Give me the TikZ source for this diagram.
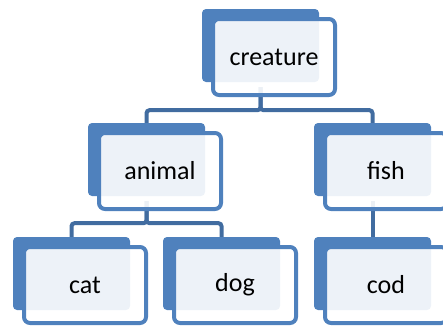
\documentclass[tikz,border=0pt]{standalone}
\usepackage{fontspec}
\setmainfont{Carlito}
\usetikzlibrary{backgrounds}
\definecolor{boxblue}{RGB}{79,129,189}
\definecolor{linkblue}{RGB}{65,108,160}
\tikzset{
  backbox/.style={fill=boxblue, draw=none, rounded corners=4pt,
    minimum width=117pt, minimum height=73pt, inner sep=0pt},
  frontbox/.style={draw=boxblue, line width=4pt, fill=white, fill opacity=0.9,
    text opacity=1, rounded corners=6pt, minimum width=122pt,
    minimum height=76pt, inner sep=0pt, font=\fontsize{26}{30}\selectfont},
  link/.style={draw=linkblue, line width=4pt, rounded corners=3pt}
}
% one entry of the tree: filled back panel plus framed label panel
\newcommand\treeitem[4]{%
  \node[backbox] (#1-back) at (#2+58.5,#3+36.5) {};
  \node[frontbox] (#1) at (#2+72,#3+48) {#4};
}
\begin{document}
\begin{tikzpicture}[x=1pt,y=-1pt]
  \useasboundingbox (0,0) rectangle (443,327);
  \clip (0,0) rectangle (443,327);
  \treeitem{creature}{202}{9}{creature}
  \treeitem{animal}{88}{123}{animal}
  \treeitem{fish}{314}{123}{fish}
  \treeitem{cat}{13}{237}{cat}
  \treeitem{dog}{163}{237}{dog}
  \treeitem{cod}{314}{237}{cod}
  \begin{scope}[on background layer]
    \draw[link] ([yshift=-5pt]creature-back.south) -- ++(0,23) -| (animal-back.north);
    \draw[link] ([yshift=-5pt]creature-back.south) -- ++(0,23) -| (fish-back.north);
    \draw[link] ([yshift=-5pt]animal-back.south) -- ++(0,22) -| (cat-back.north);
    \draw[link] ([yshift=-5pt]animal-back.south) -- ++(0,22) -| (dog-back.north);
    \draw[link] ([yshift=-5pt]fish-back.south) -- (cod-back.north);
  \end{scope}
\end{tikzpicture}
\end{document}
